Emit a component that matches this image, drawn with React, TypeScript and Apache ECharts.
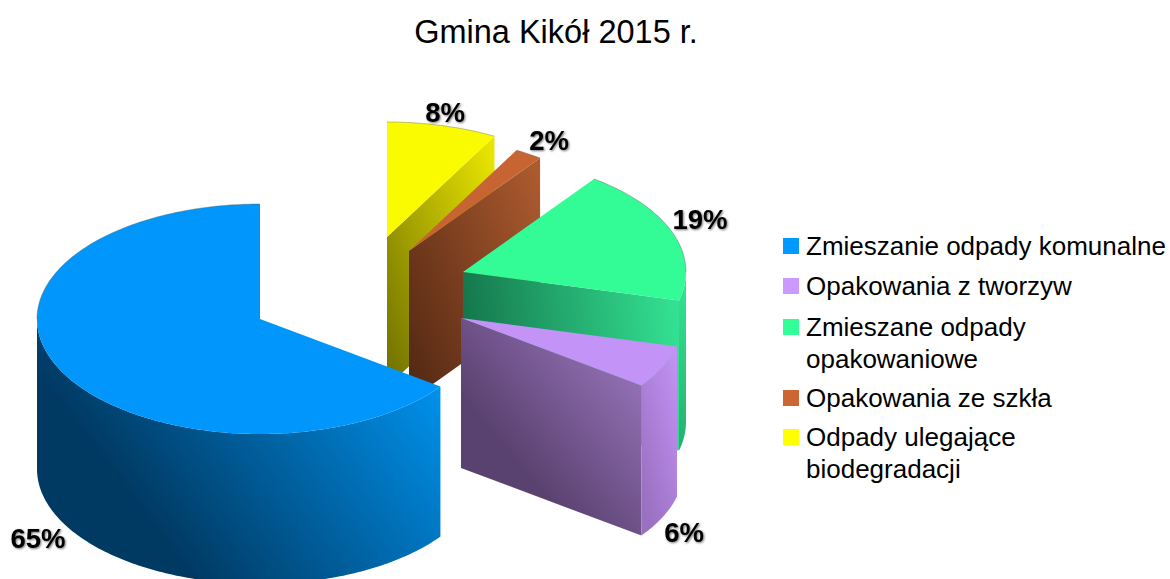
import React, { useEffect, useRef } from "react";
import * as echarts from "echarts";

const TITLE = "Gmina Kikół 2015 r.";
const categories = [
  "Zmieszanie odpady komunalne",
  "Opakowania z tworzyw",
  "Zmieszane odpady\nopakowaniowe",
  "Opakowania ze szkła",
  "Odpady ulegające\nbiodegradacji",
];
const shares = [65, 6, 19, 2, 8];
const labels = ["65%", "6%", "19%", "2%", "8%"];

const legendColors = ["#0099ff", "#cc99ff", "#33ff99", "#cc6633", "#ffff00"];
const topColors = ["#0096fb", "#c393f7", "#33fb96", "#c66432", "#fbfb00"];
// gradient: [x, y, x2, y2, colour at start, colour at end], in the face's bounding box
const wallShades: any[] = [
  null,
  [0, 0.35, 0.55, -0.2, "#5a4270", "#9672b8"],
  [0, 0.55, 1, 0.45, "#14734a", "#33e092"],
  [0, 0.85, 1, 0.1, "#562a14", "#ac5a2e"],
  [0, 1, 1, 0.1, "#6e6e00", "#e8e400"],
];
const sideShades: any[] = [
  [0.2, 0.6, 1, 0.2, "#003a63", "#0094f0"],
  [1, 0, 0.3, 1, "#c593f8", "#9a70c0"],
  [0.5, 0, 0.5, 1, "#33e892", "#25ae70"],
  null,
  null,
];
const sliceCenters = [
  [260, 319],
  [461, 318],
  [463, 272],
  [409, 251],
  [387, 237],
];
const labelCenters = [
  [38, 538],
  [684, 532],
  [700, 219],
  [549, 140],
  [445, 112],
];
const legendRows = [246, 286, 327, 398, 437];

const RX = 223;
const RY = 115;
const DEPTH = 150;
const FONT = '"Liberation Sans", Arial, sans-serif';

const total = shares.reduce((a, b) => a + b, 0);

function grad(s: any[]) {
  return {
    type: "linear",
    x: s[0],
    y: s[1],
    x2: s[2],
    y2: s[3],
    colorStops: [
      { offset: 0, color: s[4] },
      { offset: 1, color: s[5] },
    ],
  };
}

function point(c: number[], deg: number, dy = 0): number[] {
  const a = (deg * Math.PI) / 180;
  return [c[0] + RX * Math.sin(a), c[1] - RY * Math.cos(a) + dy];
}

function arc(c: number[], from: number, to: number, dy = 0): number[][] {
  const out: number[][] = [];
  const n = Math.max(2, Math.ceil(to - from));
  for (let k = 0; k <= n; k++) out.push(point(c, from + ((to - from) * k) / n, dy));
  return out;
}

function renderSlice(params: any, api: any) {
  const i = params.dataIndex;
  const value = api.value(0);
  const before = shares.slice(0, i).reduce((a, b) => a + b, 0);
  // slices run counter-clockwise from 12 o'clock; angles here are clockwise from it
  const end = 360 * (1 - before / total);
  const start = end - (360 * value) / total;
  const c = sliceCenters[i];
  const base = (5 - i) * 10;
  const children: any[] = [];

  if (wallShades[i]) {
    const edge = point(c, end > 180 ? start : end);
    children.push({
      type: "polygon",
      z2: base,
      shape: { points: [c, edge, [edge[0], edge[1] + DEPTH], [c[0], c[1] + DEPTH]] },
      style: { fill: grad(wallShades[i]) },
    });
  }
  const from = Math.max(start, 90);
  const to = Math.min(end, 270);
  if (sideShades[i] && to > from) {
    children.push({
      type: "polygon",
      z2: base + 1,
      shape: { points: [...arc(c, from, to), ...arc(c, from, to, DEPTH).reverse()] },
      style: { fill: grad(sideShades[i]) },
    });
  }
  children.push({
    type: "polygon",
    z2: base + 2,
    shape: { points: [c, ...arc(c, start, end)] },
    style: { fill: topColors[i] },
  });
  // thin outline on the rear part of the rim only
  const rimFrom = end > 270 ? Math.max(start, 270) : start;
  const rimTo = end > 270 ? end : Math.min(end, 90);
  if (rimTo > rimFrom) {
    children.push({
      type: "polyline",
      z2: base + 3,
      shape: { points: arc(c, rimFrom, rimTo) },
      style: { fill: "none", stroke: "rgba(90,90,90,0.55)", lineWidth: 0.7 },
    });
  }
  children.push({
    type: "text",
    z2: 200,
    style: {
      x: labelCenters[i][0],
      y: labelCenters[i][1],
      text: labels[i],
      align: "center",
      verticalAlign: "middle",
      font: `bold 27.5px ${FONT}`,
      fill: "#000",
      textShadowColor: "rgba(0,0,0,0.55)",
      textShadowBlur: 2,
      textShadowOffsetX: 1,
      textShadowOffsetY: 1,
    },
  });
  return { type: "group", children };
}

export default function App() {
  const ref = useRef<HTMLDivElement>(null);
  useEffect(() => {
    document.body.style.margin = "0";
    const chart = echarts.init(ref.current!, undefined, { renderer: "svg" });
    const legend: any[] = [];
    categories.forEach((name, i) => {
      legend.push({
        type: "rect",
        shape: { x: 783, y: legendRows[i] - 8, width: 16, height: 16 },
        style: { fill: legendColors[i] },
      });
      legend.push({
        type: "text",
        style: {
          x: 806,
          y: legendRows[i] - 16,
          text: name,
          font: `26px ${FONT}`,
          lineHeight: 32,
          fill: "#000",
        },
      });
    });
    chart.setOption({
      animation: false,
      backgroundColor: "#fff",
      title: {
        text: TITLE,
        left: 551,
        top: 10,
        textAlign: "center",
        textStyle: { fontFamily: FONT, fontSize: 32.5, fontWeight: "normal", color: "#000" },
      },
      graphic: legend,
      series: [
        {
          type: "custom",
          coordinateSystem: "none",
          renderItem: renderSlice,
          data: shares.map((v, i) => ({ name: categories[i], value: [v] })),
          clip: false,
        },
      ],
    });
    return () => chart.dispose();
  }, []);
  return <div ref={ref} style={{ width: 1170, height: 579 }} />;
}
